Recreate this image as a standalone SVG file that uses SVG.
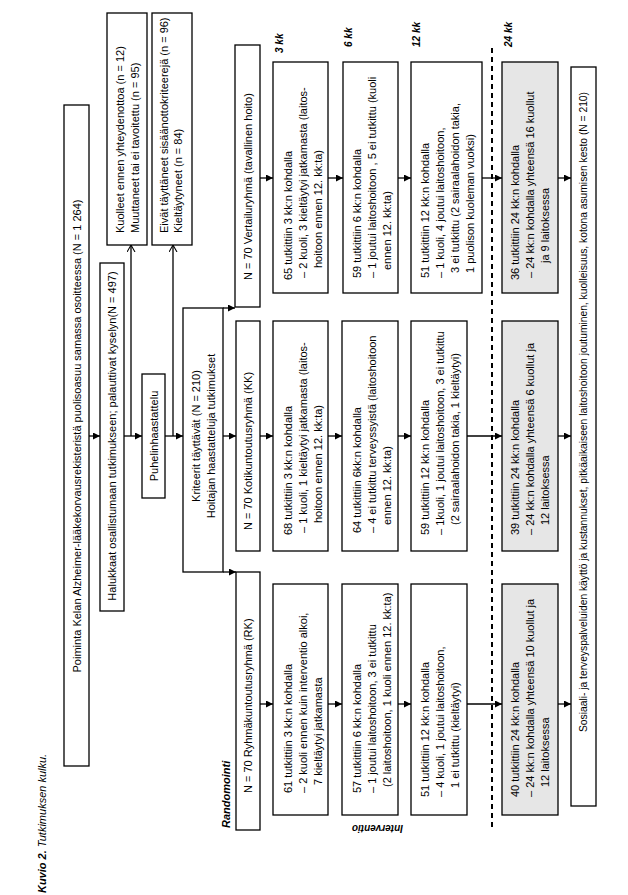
<svg xmlns="http://www.w3.org/2000/svg" width="628" height="895" viewBox="0 0 628 895">
<defs>
<style>
.b{fill:#fff;stroke:#000;stroke-width:1.3}
.g{fill:#e6e6e6;stroke:#000;stroke-width:1.3}
.t{font-family:"Liberation Sans",Arial,sans-serif;font-size:11px;fill:#000}
.m{text-anchor:middle}
.lb{font-family:"Liberation Sans",Arial,sans-serif;font-weight:bold;font-style:italic;fill:#000}
.cap{font-family:"Liberation Sans",Arial,sans-serif;font-style:italic;font-size:11px;fill:#000}
.c{stroke:#000;stroke-width:1.3;fill:none}
</style>
<marker id="ah" markerUnits="userSpaceOnUse" markerWidth="8" markerHeight="8" refX="7" refY="3.5" orient="auto"><path d="M0,0 L7,3.5 L0,7 z" fill="#000"/></marker>
<marker id="oh" markerUnits="userSpaceOnUse" markerWidth="10" markerHeight="10" refX="7" refY="4.5" orient="auto"><path d="M0,0.5 L7,4.5 L0,8.5" fill="none" stroke="#000" stroke-width="1.1"/></marker>
</defs>
<rect width="628" height="895" fill="#fff"/>

<g id="connectors">
<line class="c" x1="89" y1="436" x2="100" y2="436" marker-end="url(#ah)"/>
<line class="c" x1="124" y1="436" x2="142" y2="436" marker-end="url(#ah)"/>
<line class="c" x1="165" y1="436" x2="183" y2="436" marker-end="url(#ah)"/>
<line class="c" x1="131" y1="436" x2="131" y2="245" marker-end="url(#oh)"/>
<line class="c" x1="173" y1="436" x2="173" y2="245" marker-end="url(#oh)"/>
<line class="c" x1="223" y1="308" x2="235" y2="308" marker-end="url(#ah)"/>
<line class="c" x1="223" y1="436" x2="236" y2="436" marker-end="url(#ah)"/>
<line class="c" x1="223" y1="572" x2="236" y2="572" marker-end="url(#ah)"/>
<line class="c" x1="260" y1="178" x2="273" y2="178" marker-end="url(#ah)"/>
<line class="c" x1="328" y1="178" x2="343" y2="178" marker-end="url(#ah)"/>
<line class="c" x1="398" y1="178" x2="411" y2="178" marker-end="url(#ah)"/>
<line class="c" x1="482" y1="178" x2="502" y2="178" marker-end="url(#ah)"/>
<line class="c" x1="558" y1="178" x2="571" y2="178" marker-end="url(#ah)"/>
<line class="c" x1="260" y1="436" x2="273" y2="436" marker-end="url(#ah)"/>
<line class="c" x1="328" y1="436" x2="342" y2="436" marker-end="url(#ah)"/>
<line class="c" x1="398" y1="436" x2="411" y2="436" marker-end="url(#ah)"/>
<line class="c" x1="467" y1="436" x2="502" y2="436" marker-end="url(#ah)"/>
<line class="c" x1="558" y1="436" x2="571" y2="436" marker-end="url(#ah)"/>
<line class="c" x1="260" y1="704" x2="273" y2="704" marker-end="url(#ah)"/>
<line class="c" x1="328" y1="704" x2="342" y2="704" marker-end="url(#ah)"/>
<line class="c" x1="398" y1="704" x2="411" y2="704" marker-end="url(#ah)"/>
<line class="c" x1="467" y1="704" x2="502" y2="704" marker-end="url(#ah)"/>
<line class="c" x1="558" y1="704" x2="571" y2="704" marker-end="url(#ah)"/>
</g>

<line x1="492" y1="48" x2="492" y2="830" stroke="#000" stroke-width="2" stroke-dasharray="5 4"/>

<text class="cap" transform="translate(46,893) rotate(-90)"><tspan font-weight="bold">Kuvio 2.</tspan> Tutkimuksen kulku.</text>
<text class="lb" font-size="11" transform="translate(230,828) rotate(-90)">Randomointi</text>
<text class="lb" font-size="10" transform="translate(403,825) rotate(180)">Interventio</text>
<text class="lb" font-size="10" transform="translate(283,53) rotate(-90)">3 kk</text>
<text class="lb" font-size="10" transform="translate(352,47) rotate(-90)">6 kk</text>
<text class="lb" font-size="10" transform="translate(420,47) rotate(-90)">12 kk</text>
<text class="lb" font-size="10" transform="translate(512,47) rotate(-90)">24 kk</text>

<g id="n-poiminta"><rect class="b" x="64" y="105" width="25" height="661"/>
<text class="t m" transform="translate(80.5,436) rotate(-90)">Poiminta Kelan Alzheimer-lääkekorvausrekisteristä  puolisoasuu samassa osoitteessa (N = 1 264)</text></g>

<g id="n-halukkaat"><rect class="b" x="100" y="263" width="24" height="348"/>
<text class="t m" transform="translate(116,436) rotate(-90)">Halukkaat osallistumaan tutkimukseen; palauttivat kyselyn(N = 497)</text></g>

<g id="n-puhelin"><rect class="b" x="142" y="374" width="23" height="124"/>
<text class="t m" transform="translate(157.5,436) rotate(-90)">Puhelinhaastattelu</text></g>

<g id="n-kriteerit"><rect class="b" x="183" y="308" width="40" height="264"/>
<text class="t m" transform="translate(200,436) rotate(-90)"><tspan x="0" y="0">Kriteerit täyttävät  (N = 210)</tspan><tspan x="0" y="14.5">Hoitajan haastatteluja  tutkimukset</tspan></text></g>

<g id="n-kuolleet"><rect class="b" x="107" y="13" width="40" height="232"/>
<text class="t" transform="translate(124,233) rotate(-90)"><tspan x="0" y="0">Kuolleet ennen yhteydenottoa  (n = 12)</tspan><tspan x="0" y="14.5">Muuttaneet tai ei  tavoitettu  (n = 95)</tspan></text></g>

<g id="n-eivat"><rect class="b" x="152" y="13" width="40" height="232"/>
<text class="t" transform="translate(167.5,233) rotate(-90)"><tspan x="0" y="0">Eivät  täyttäneet sisäänottokriteerejä (n = 96)</tspan><tspan x="0" y="14.5">Kieltäytyneet  (n = 84)</tspan></text></g>

<g id="n-vertailu"><rect class="b" x="235" y="45" width="25" height="262"/>
<text class="t" transform="translate(252,280) rotate(-90)">N = 70  Vertailuryhmä (tavallinen hoito)</text></g>

<g id="n-koti"><rect class="b" x="236" y="321" width="24" height="230"/>
<text class="t" transform="translate(252,530) rotate(-90)">N = 70   Kotikuntoutusryhmä (KK)</text></g>

<g id="n-ryhma"><rect class="b" x="236" y="572" width="24" height="258"/>
<text class="t" transform="translate(252,793) rotate(-90)">N = 70   Ryhmäkuntoutusryhmä  (RK)</text></g>

<g id="n-v3"><rect class="b" x="273" y="62" width="55" height="231"/>
<text class="t" transform="translate(292,280) rotate(-90)"><tspan x="0" y="0">65 tutkittiin 3 kk:n kohdalla</tspan><tspan x="2" y="15">– 2 kuoli, 3 kieltäytyi jatkamasta (laitos-</tspan><tspan x="12" y="30">hoitoon ennen 12. kk:ta)</tspan></text></g>

<g id="n-k3"><rect class="b" x="273" y="321" width="55" height="230"/>
<text class="t" transform="translate(292,535) rotate(-90)"><tspan x="0" y="0">68 tutkittiin 3 kk:n kohdalla</tspan><tspan x="2" y="15">– 1 kuoli, 1 kieltäytyi jatkamasta (laitos-</tspan><tspan x="12" y="30">hoitoon ennen 12. kk:ta)</tspan></text></g>

<g id="n-r3"><rect class="b" x="273" y="584" width="55" height="231"/>
<text class="t" transform="translate(292,793) rotate(-90)"><tspan x="0" y="0">61 tutkittiin 3 kk:n  kohdalla</tspan><tspan x="0" y="15">– 2 kuoli ennen kuin interventio alkoi,</tspan><tspan x="8" y="30">7 kieltäytyi  jatkamasta</tspan></text></g>

<g id="n-v6"><rect class="b" x="343" y="62" width="55" height="231"/>
<text class="t" transform="translate(361,278) rotate(-90)"><tspan x="0" y="0">59  tutkittiin 6  kk:n kohdalla</tspan><tspan x="0" y="15">– 1 joutui laitoshoitoon , 5 ei tutkittu (kuoli</tspan><tspan x="8" y="30">ennen 12. kk:ta)</tspan></text></g>

<g id="n-k6"><rect class="b" x="342" y="321" width="56" height="230"/>
<text class="t" transform="translate(361,533) rotate(-90)"><tspan x="0" y="0">64 tutkittiin  6kk:n kohdalla</tspan><tspan x="0" y="15">– 4  ei tutkittu  terveyssyistä (laitoshoitoon</tspan><tspan x="8" y="30">ennen  12. kk:ta)</tspan></text></g>

<g id="n-r6"><rect class="b" x="342" y="584" width="56" height="231"/>
<text class="t" transform="translate(361,793) rotate(-90)"><tspan x="0" y="0">57 tutkittiin 6 kk:n kohdalla</tspan><tspan x="0" y="15">– 1 joutui  laitoshoitoon, 3 ei tutkittu</tspan><tspan x="6" y="30">(2 laitoshoitoon, 1 kuoli ennen 12. kk:ta)</tspan></text></g>

<g id="n-v12"><rect class="b" x="411" y="62" width="71" height="231"/>
<text class="t" transform="translate(429,278) rotate(-90)"><tspan x="0" y="0">51  tutkittiin 12 kk:n kohdalla</tspan><tspan x="0" y="15">– 1 kuoli, 4 joutui laitoshoitoon,</tspan><tspan x="5" y="30">3 ei tutkittu (2 sairaalahoidon takia,</tspan><tspan x="5" y="45">1 puolison kuoleman vuoksi)</tspan></text></g>

<g id="n-k12"><rect class="b" x="411" y="321" width="56" height="230"/>
<text class="t" transform="translate(429,535) rotate(-90)"><tspan x="0" y="0">59 tutkittiin 12 kk:n kohdalla</tspan><tspan x="0" y="15">– 1kuoli, 1 joutui laitoshoitoon, 3 ei tutkittu</tspan><tspan x="10" y="30">(2 sairaalahoidon takia, 1 kieltäytyi)</tspan></text></g>

<g id="n-r12"><rect class="b" x="411" y="584" width="56" height="231"/>
<text class="t" transform="translate(429,797) rotate(-90)"><tspan x="0" y="0">51 tutkittiin 12 kk:n kohdalla</tspan><tspan x="0" y="15">– 4 kuoli, 1 joutui laitoshoitoon,</tspan><tspan x="9" y="30">1 ei tutkittu (kieltäytyi)</tspan></text></g>

<g id="n-v24"><rect class="g" x="502" y="62" width="56" height="231"/>
<text class="t" transform="translate(519,280) rotate(-90)"><tspan x="0" y="0">36 tutkittiin 24 kk:n kohdalla</tspan><tspan x="2" y="15">– 24 kk:n kohdalla yhteensä 16 kuollut</tspan><tspan x="17" y="30">ja 9 laitoksessa</tspan></text></g>

<g id="n-k24"><rect class="g" x="502" y="321" width="56" height="230"/>
<text class="t" transform="translate(519,535) rotate(-90)"><tspan x="0" y="0">39 tutkittiin 24 kk:n kohdalla</tspan><tspan x="0" y="15">– 24 kk:n kohdalla yhteensä 6 kuollut ja</tspan><tspan x="10" y="30">12 laitoksessa</tspan></text></g>

<g id="n-r24"><rect class="g" x="502" y="584" width="56" height="231"/>
<text class="t" transform="translate(519,797) rotate(-90)"><tspan x="0" y="0">40 tutkittiin 24 kk:n kohdalla</tspan><tspan x="0" y="15">– 24 kk:n kohdalla yhteensä 10 kuollut ja</tspan><tspan x="10" y="30">12 laitoksessa</tspan></text></g>

<g id="n-final"><rect class="b" x="571" y="67" width="25" height="739"/>
<text class="t" transform="translate(587,732) rotate(-90)" textLength="640" lengthAdjust="spacingAndGlyphs">Sosiaali-  ja terveyspalveluiden käyttö  ja kustannukset, pitkäaikaiseen  laitoshoitoon joutuminen, kuolleisuus, kotona asumisen kesto (N = 210)</text></g>
</svg>
